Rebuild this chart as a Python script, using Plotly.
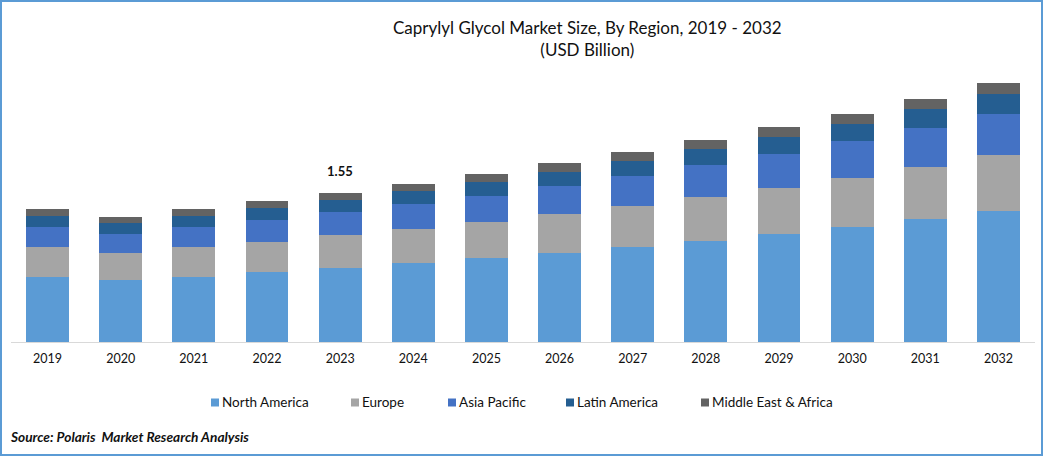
import plotly.graph_objects as go

years = ["2019","2020","2021","2022","2023","2024","2025","2026","2027","2028","2029","2030","2031","2032"]
north_america = [0.68,0.645,0.68,0.73,0.77,0.82,0.875,0.925,0.99,1.05,1.125,1.195,1.28,1.365]
europe = [0.312,0.281,0.312,0.312,0.343,0.354,0.375,0.406,0.427,0.458,0.479,0.51,0.541,0.583]
asia_pacific = [0.208,0.198,0.208,0.229,0.239,0.26,0.27,0.291,0.312,0.333,0.354,0.385,0.406,0.427]
latin_america = [0.114,0.114,0.114,0.125,0.125,0.135,0.146,0.146,0.156,0.166,0.177,0.177,0.198,0.208]
mea = [0.073,0.062,0.073,0.073,0.073,0.073,0.083,0.094,0.094,0.094,0.104,0.104,0.104,0.114]

series = [
    ("North America", north_america, "#5B9BD5", 211),
    ("Europe", europe, "#A5A5A5", 351),
    ("Asia Pacific", asia_pacific, "#4472C4", 448),
    ("Latin America", latin_america, "#255E91", 566),
    ("Middle East & Africa", mea, "#636363", 701),
]
W, H = 1043, 456
FONT = "Lato, Carlito, Calibri, sans-serif"

fig = go.Figure()
for name, vals, color, _ in series:
    fig.add_bar(x=years, y=vals, name=name, marker=dict(color=color, line=dict(width=0)), width=0.587)

margin_l, margin_r, margin_t, margin_b = 11, 8, 70, 114
def cx(x): return (x - margin_l) / (W - margin_l - margin_r)
def cy(y): return (H - margin_b - y) / (H - margin_t - margin_b)

shapes = [dict(type="rect", xref="paper", yref="paper", layer="above",
               x0=cx(1), x1=cx(W - 1), y0=cy(H - 1), y1=cy(1),
               line=dict(color="#5B9BD5", width=2), fillcolor="rgba(0,0,0,0)")]
annotations = []

# legend
for name, vals, color, lx in series:
    shapes.append(dict(type="rect", xref="paper", yref="paper", x0=cx(lx), x1=cx(lx + 8),
                       y0=cy(406.5), y1=cy(398.5), line=dict(width=0), fillcolor=color))
    annotations.append(dict(xref="paper", yref="paper", x=cx(lx + 9), y=cy(402), text=name,
                            showarrow=False, xanchor="left", yanchor="middle",
                            font=dict(family=FONT, size=13.5, color="#111")))

# data label on 2023
idx_2023 = years.index("2023")
total_2023 = sum(s[1][idx_2023] for s in series)
annotations.append(dict(x=idx_2023, y=total_2023, xref="x", yref="y", text="<b>1.55</b>", showarrow=False,
                        yanchor="bottom", yshift=12, font=dict(family=FONT, size=13, color="#111")))
# source
annotations.append(dict(xref="paper", yref="paper", x=cx(8), y=cy(437), text="<b><i>Source: Polaris  Market Research Analysis</i></b>",
                        showarrow=False, xanchor="left", yanchor="middle",
                        font=dict(family=FONT, size=13.7, color="#111")))
# title
annotations.append(dict(xref="paper", yref="paper", x=cx(587), y=cy(39),
                        text="Caprylyl Glycol Market Size, By Region, 2019 - 2032<br>(USD Billion)",
                        showarrow=False, xanchor="center", yanchor="middle",
                        font=dict(family=FONT, size=17, color="#111")))

fig.update_layout(
    barmode="stack", width=W, height=H, showlegend=False,
    paper_bgcolor="white", plot_bgcolor="white",
    margin=dict(l=margin_l, r=margin_r, t=margin_t, b=margin_b, pad=0, autoexpand=False),
    xaxis=dict(type="category", range=[-0.5, 13.5], showgrid=False, showline=True, linecolor="#D9D9D9", linewidth=1,
               ticks="", tickfont=dict(family=FONT, size=12.5, color="#111"), automargin=False,
               ticklabelstandoff=5),
    yaxis=dict(visible=False, range=[0, 272 / 96.1], showgrid=False, zeroline=False),
    shapes=shapes, annotations=annotations, font=dict(family=FONT),
)
fig.write_html("out.html", config=dict(displayModeBar=False),
               post_script="document.body.style.margin='0';document.body.style.overflow='hidden';")
